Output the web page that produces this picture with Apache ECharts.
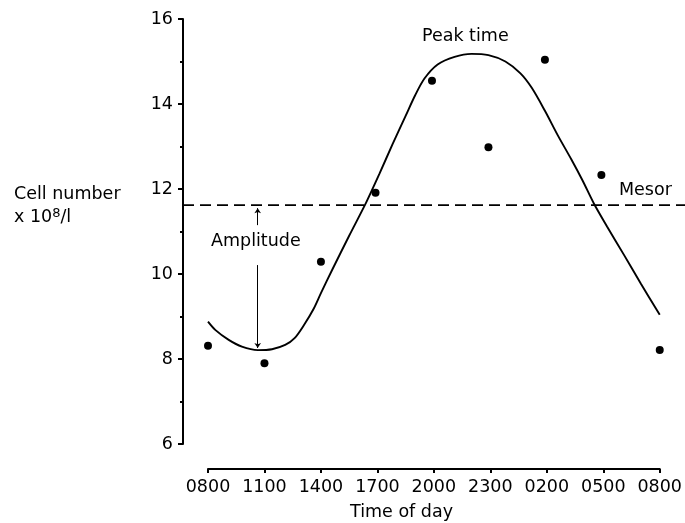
<!DOCTYPE html>
<html>
<head>
<meta charset="utf-8">
<script src="https://cdn.jsdelivr.net/npm/echarts@6/dist/echarts.min.js"></script>
<style>
	html, body { margin: 0; padding: 0; background: #fff; }
	#chart { width: 685px; height: 523px; }
</style>
</head>
<body>
<div id="chart"></div>
<script>
	// tick labels on the time axis (hours after 0800)
	var tickLabels = ['0800','1100','1400','1700','2000','2300','0200','0500','0800'];
	var yTicks = [6, 8, 10, 12, 14, 16];

	// measured cell numbers (x 10^8/l)
	var sampleHours = [0, 3, 6, 8.9, 11.9, 14.9, 17.9, 20.9, 24];
	var cellCounts = [8.31, 7.90, 10.29, 11.91, 14.55, 12.98, 15.04, 12.33, 8.21];

	// fitted rhythm curve
	var curveHours = [0, 0.4, 1.1, 1.8, 2.65, 3.4, 4.1, 4.6, 5.1, 5.6, 6.0, 6.6, 7.5, 8.4, 9.1, 9.8, 10.5, 11.0, 11.5, 12.2, 13.1, 14.0, 14.9, 15.8, 16.6, 17.2, 17.9, 18.6, 19.3, 19.9, 20.5, 21.2, 22.1, 23.0, 24.0];
	var curveValues = [8.88, 8.68, 8.45, 8.29, 8.21, 8.23, 8.33, 8.49, 8.80, 9.17, 9.55, 10.1, 10.9, 11.68, 12.35, 13.05, 13.72, 14.2, 14.6, 14.93, 15.11, 15.18, 15.15, 15.00, 14.72, 14.38, 13.84, 13.25, 12.7, 12.2, 11.66, 11.12, 10.45, 9.77, 9.04];

	var mesor = 11.62;
	var amplitudeHour = 2.64;
	var amplitudeUpper = [11.15, 11.55];   // short arrow up to the mesor
	var amplitudeLower = [10.21, 8.26];    // long arrow down to the trough

	var ink = '#000';
	var fontFamily = 'DejaVu Sans';
	var font = '17.5px "DejaVu Sans"';

	function pairs(xs, ys){
		var out = [];
		for(var i = 0;i < xs.length;i++){
			out.push([xs[i], ys[i]]);
		}
		return out;
	}

	var chart = echarts.init(document.getElementById('chart'));
	var option = {
		animation: false,
		backgroundColor: '#fff',
		grid: [
			{ left: 208, right: 22, top: 19, bottom: 79 },
			{ left: 183, right: 0, top: 19, bottom: 79 }
		],
		xAxis: [
			{
				type: 'value',
				gridIndex: 0,
				min: 0,
				max: 24,
				interval: 3,
				offset: 25,
				splitLine: { show: false },
				axisLine: { show: true, onZero: false, lineStyle: { color: ink, width: 2 } },
				axisTick: { show: true, inside: false, length: 4, lineStyle: { color: ink, width: 2 } },
				axisLabel: {
					margin: 9,
					color: ink,
					fontFamily: fontFamily,
					fontSize: 17.5,
					formatter: function(v){
						return tickLabels[Math.round(v / 3)];
					}
				}
			},
			{ type: 'value', gridIndex: 1, min: 0, max: 1, show: false }
		],
		yAxis: [
			{
				type: 'value',
				gridIndex: 0,
				min: yTicks[0],
				max: yTicks[yTicks.length - 1],
				interval: 2,
				offset: 25,
				splitLine: { show: false },
				axisLine: { show: true, onZero: false, lineStyle: { color: ink, width: 2 } },
				axisTick: { show: true, length: 5, lineStyle: { color: ink, width: 2 } },
				minorTick: { show: true, splitNumber: 2, length: 3, lineStyle: { color: ink, width: 2 } },
				minorSplitLine: { show: false },
				axisLabel: { margin: 10, color: ink, fontFamily: fontFamily, fontSize: 17.5 }
			},
			{ type: 'value', gridIndex: 1, min: 6, max: 16, show: false }
		],
		series: [
			{
				name: 'mesor',
				type: 'line',
				xAxisIndex: 1,
				yAxisIndex: 1,
				data: [[0, mesor], [1, mesor]],
				symbol: 'none',
				lineStyle: { color: ink, width: 1.6, type: [11, 6] },
				silent: true
			},
			{
				name: 'fit',
				type: 'line',
				data: pairs(curveHours, curveValues),
				smooth: 0.3,
				symbol: 'none',
				lineStyle: { color: ink, width: 1.9 },
				silent: true,
				markLine: {
					silent: true,
					symbol: ['none', 'arrow'],
					symbolSize: 5,
					label: { show: false },
					lineStyle: { color: ink, width: 1, type: 'solid' },
					data: [
						[{ coord: [amplitudeHour, amplitudeUpper[0]] }, { coord: [amplitudeHour, amplitudeUpper[1]] }],
						[{ coord: [amplitudeHour, amplitudeLower[0]] }, { coord: [amplitudeHour, amplitudeLower[1]] }]
					]
				}
			},
			{
				name: 'cells',
				type: 'scatter',
				data: pairs(sampleHours, cellCounts),
				symbol: 'circle',
				symbolSize: 8,
				itemStyle: { color: ink, opacity: 1 }
			}
		],
		graphic: [
			{
				type: 'text', left: 14, top: 185,
				style: { text: 'Cell number', fill: ink, font: font }
			},
			{
				type: 'text', left: 14, top: 207,
				style: {
					text: 'x 10{sup|8}/l',
					fill: ink,
					font: font,
					rich: { sup: { fontSize: 13, fontFamily: fontFamily, verticalAlign: 'top', padding: [0, 0, 8, 0] } }
				}
			},
			{
				type: 'text', left: 211, top: 232,
				style: { text: 'Amplitude', fill: ink, font: font }
			},
			{
				type: 'text', left: 422, top: 27,
				style: { text: 'Peak time', fill: ink, font: font }
			},
			{
				type: 'text', left: 619, top: 181,
				style: { text: 'Mesor', fill: ink, font: font }
			},
			{
				type: 'text', left: 350, top: 503,
				style: { text: 'Time of day', fill: ink, font: font }
			}
		]
	};
	chart.setOption(option);
	window.onresize = chart.resize;
</script>
</body>
</html>
